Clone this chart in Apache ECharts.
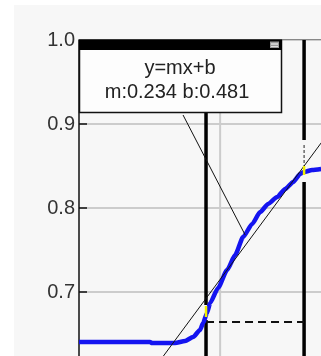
<!DOCTYPE html>
<html>
<head>
<meta charset="utf-8">
<script src="https://cdn.jsdelivr.net/npm/echarts@6/dist/echarts.min.js"></script>
<style>
html,body{margin:0;padding:0;background:#fff;overflow:hidden;width:321px;height:356px;}
#c{width:370px;height:376px;position:absolute;left:0;top:0;}
</style>
</head>
<body>
<div id="c"></div>
<script>
// ---- data ----
const yTickLabels = ['0.7', '0.8', '0.9', '1.0'];
const curveX = [0.03, 0.518, 0.532, 0.690, 0.759, 0.814, 0.862, 0.883, 0.910, 0.931, 0.986, 1.048, 1.103, 1.158, 1.220, 1.275, 1.330, 1.392, 1.447, 1.502, 1.550, 1.577, 1.632, 1.694];
const curveY = [0.6405, 0.6405, 0.6393, 0.6393, 0.6417, 0.6464, 0.6548, 0.6631, 0.675, 0.6869, 0.7048, 0.7262, 0.744, 0.7655, 0.781, 0.7952, 0.8048, 0.8131, 0.8226, 0.831, 0.8405, 0.8429, 0.8452, 0.8464];
const fitM = 0.234;
const fitB = 0.481;
const fitRangeX = [0.55, 1.85];
const boundX = [0.903, 1.577];
const leftBoundSegs = [[0.9143, 0.6845], [0.6667, 0.6]];
const rightBoundSegs = [[1.0, 0.881], [0.831, 0.6]];
const rightThinSeg = [0.875, 0.8452];
const dashLevelY = 0.6643;
const leaderFrom = [0.745, 0.9107];
const leaderTo = [1.172, 0.7679];
const gridX = 1;
const yellowLeft = [0.6833, 0.6702];
const yellowRight = [0.85, 0.8393];

const chart = echarts.init(document.getElementById('c'));
const seg = (x, ys) => [[x, ys[0]], [x, ys[1]]];
const lineS = (data, color, width, extra) => Object.assign({
  type: 'line', data: data, showSymbol: false, symbol: 'none', silent: true,
  animation: false, lineStyle: {color: color, width: width}
}, extra || {});

const series = [
  lineS(seg(gridX, [0.6, 1.0]), '#cccccc', 2, {z: 1}),
  lineS(seg(boundX[0], leftBoundSegs[0]), '#000', 3.5, {z: 3}),
  lineS(seg(boundX[0], leftBoundSegs[1]), '#000', 3.5, {z: 3}),
  lineS(seg(boundX[1], rightBoundSegs[0]), '#000', 3.5, {z: 3}),
  lineS(seg(boundX[1], rightBoundSegs[1]), '#000', 3.5, {z: 3}),
  lineS(seg(boundX[1], rightThinSeg), '#222', 1, {z: 3, lineStyle: {color: '#222', width: 1, type: [3, 2]}}),
  lineS([[boundX[0], dashLevelY], [boundX[1], dashLevelY]], '#000', 2, {z: 3, lineStyle: {color: '#111', width: 2, type: [8, 5]}}),
  lineS(curveX.map((x, i) => [x, curveY[i]]), '#1414f0', 4.5, {z: 4, smooth: 0.2, smoothMonotone: 'x'}),
  lineS(fitRangeX.map(x => [x, fitB + fitM * x]), '#111', 1, {z: 5}),
  lineS([leaderFrom, leaderTo], '#111', 1, {z: 5}),
  lineS(seg(boundX[0], yellowLeft), '#f0f000', 2.5, {z: 6}),
  lineS(seg(boundX[1], yellowRight), '#f0f000', 2.5, {z: 6})
];

chart.setOption({
  animation: false,
  backgroundColor: 'transparent',
  grid: {left: 79, top: 40, right: 0, bottom: 0, containLabel: false},
  xAxis: {type: 'value', min: 0.03, max: 2.03, show: false},
  yAxis: {
    type: 'value', min: 0.6, max: 1.0, interval: 0.1,
    axisLine: {show: true, lineStyle: {color: '#111', width: 1.5}},
    axisTick: {show: true, inside: true, length: 8, lineStyle: {color: '#111', width: 1.5}},
    splitLine: {show: true, lineStyle: {color: '#cccccc', width: 2}},
    axisLabel: {
      margin: 4, fontSize: 20, color: '#333', fontFamily: 'Liberation Sans',
      formatter: v => { const s = v.toFixed(1); return yTickLabels.indexOf(s) >= 0 ? s : ''; }
    }
  },
  graphic: [
    {type: 'rect', z: -10, shape: {x: 14, y: 5, width: 360, height: 380}, style: {fill: '#f7f7f7'}},
    {type: 'line', z: 50, shape: {x1: 79, y1: 39.5, x2: 370, y2: 39.5}, style: {stroke: '#888', lineWidth: 1}},
    {type: 'rect', z: 100, shape: {x: 79.5, y: 40.5, width: 202, height: 72}, style: {fill: '#fdfdfd', stroke: '#111', lineWidth: 1.5}},
    {type: 'rect', z: 101, shape: {x: 79, y: 39.5, width: 203, height: 10.5}, style: {fill: '#000'}},
    {type: 'rect', z: 102, shape: {x: 270, y: 41.5, width: 9, height: 6.5}, style: {fill: '#9a9a9a'}},
    {type: 'line', z: 103, shape: {x1: 271, y1: 44, x2: 278, y2: 44}, style: {stroke: '#fff', lineWidth: 1}},
    {type: 'line', z: 103, shape: {x1: 271, y1: 46.5, x2: 278, y2: 46.5}, style: {stroke: '#ddd', lineWidth: 1}},
    {type: 'text', z: 104, x: 180, y: 68, style: {text: 'y=mx+b', fontSize: 20, fontFamily: 'Liberation Sans', fill: '#222', align: 'center', verticalAlign: 'middle'}},
    {type: 'text', z: 104, x: 177, y: 92, style: {text: 'm:' + fitM.toFixed(3) + ' b:' + fitB.toFixed(3), fontSize: 20, fontFamily: 'Liberation Sans', fill: '#222', align: 'center', verticalAlign: 'middle'}}
  ],
  series: series
});
</script>
</body>
</html>
